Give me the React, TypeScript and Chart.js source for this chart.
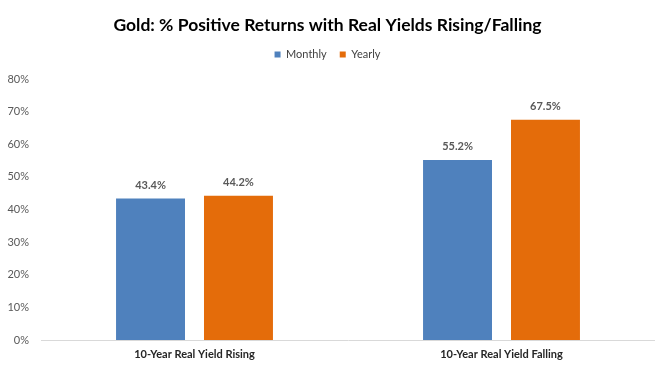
import React, { useEffect, useRef } from 'react';
import { Chart, registerables } from 'chart.js';

Chart.register(...registerables);

const categories = ['10-Year Real Yield Rising', '10-Year Real Yield Falling'];
const seriesNames = ['Monthly', 'Yearly'];
const monthlyValues = [43.4, 55.2];
const yearlyValues = [44.2, 67.5];
const yMin = 0;
const yMax = 80;
const yStep = 10;

const FONT = 'Lato, "Open Sans", sans-serif';

const barLabelPlugin = {
  id: 'barLabels',
  afterDatasetsDraw(chart: any) {
    const ctx = chart.ctx;
    chart.data.datasets.forEach((ds: any, i: number) => {
      const meta = chart.getDatasetMeta(i);
      meta.data.forEach((bar: any, j: number) => {
        ctx.save();
        ctx.font = `bold 11px ${FONT}`;
        ctx.fillStyle = '#595959';
        ctx.textAlign = 'center';
        ctx.textBaseline = 'middle';
        ctx.fillText(Number(ds.data[j]).toFixed(1) + '%', bar.x, bar.y - 13);
        ctx.restore();
      });
    });
  },
};

const legendSpacePlugin = {
  id: 'legendSpace',
  beforeInit(chart: any) {
    const legend = chart.legend;
    if (!legend) return;
    const origFit = legend.fit;
    legend.fit = function () {
      origFit.call(this);
      this.height += 9;
    };
  },
};

export default function App() {
  const ref = useRef<HTMLCanvasElement | null>(null);
  useEffect(() => {
    document.body.style.margin = '0';
    const chart = new Chart(ref.current as HTMLCanvasElement, {
      type: 'bar',
      data: {
        labels: categories,
        datasets: [
          {
            label: seriesNames[0],
            data: monthlyValues,
            backgroundColor: '#4f81bd',
            categoryPercentage: 0.573,
            barPercentage: 0.784,
          },
          {
            label: seriesNames[1],
            data: yearlyValues,
            backgroundColor: '#e46c0a',
            categoryPercentage: 0.573,
            barPercentage: 0.784,
          },
        ],
      },
      options: {
        animation: false,
        responsive: false,
        maintainAspectRatio: false,
        layout: { padding: { top: 0, left: 0, right: 0, bottom: 0 } },
        plugins: {
          title: {
            display: true,
            text: 'Gold: % Positive Returns with Real Yields Rising/Falling',
            color: '#000000',
            font: { family: FONT, size: 17.5, weight: 'bold' },
            padding: { top: 15, bottom: 0 },
          },
          legend: {
            display: true,
            position: 'top',
            labels: {
              boxWidth: 6,
              boxHeight: 6,
              padding: 13,
              color: '#404040',
              font: { family: FONT, size: 11 },
            },
          },
          tooltip: { enabled: false },
        },
        scales: {
          x: {
            grid: { display: false, drawTicks: false },
            border: { display: true, color: '#d9d9d9', width: 1 },
            ticks: {
              color: '#262626',
              font: { family: FONT, size: 11, weight: 'bold' },
              padding: 8,
            },
            afterFit(scale: any) {
              scale.height = 31;
            },
          },
          y: {
            min: yMin,
            max: yMax,
            grid: { display: false, drawTicks: false },
            border: { display: false },
            ticks: {
              stepSize: yStep,
              color: '#595959',
              font: { family: FONT, size: 11 },
              padding: 12,
              callback: (v: any) => v + '%',
            },
            afterFit(scale: any) {
              scale.width = 41;
            },
          },
        },
      },
      plugins: [legendSpacePlugin, barLabelPlugin],
    });
    return () => chart.destroy();
  }, []);
  return (
    <div style={{ position: 'absolute', left: 0, top: 0, width: 655, height: 371, background: '#ffffff' }}>
      <canvas ref={ref} width={655} height={371} style={{ display: 'block' }} />
    </div>
  );
}
